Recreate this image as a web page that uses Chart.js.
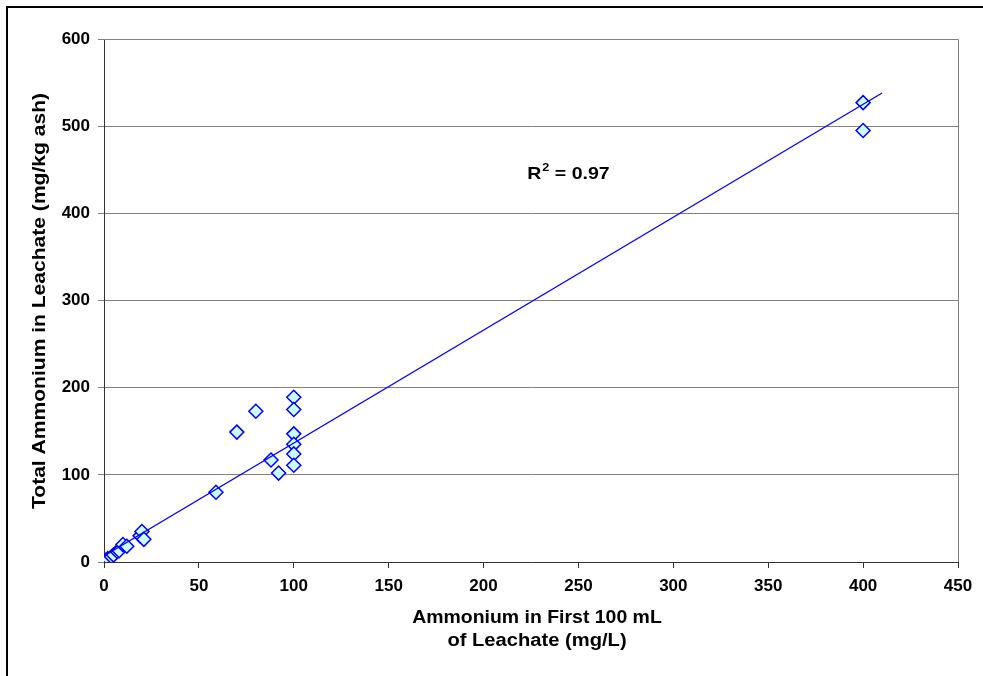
<!DOCTYPE html>
<html>
<head>
<meta charset="utf-8">
<script src="https://cdn.jsdelivr.net/npm/chart.js@4"></script>
<style>
  html, body { margin: 0; padding: 0; background: #fff; }
  #wrap { width: 983px; height: 676px; }
</style>
</head>
<body>
<div id="wrap"><canvas id="chart" width="983" height="676"></canvas></div>
<script>
// first 100 mL ammonium (mg/L) vs total ammonium in leachate (mg/kg ash)
var firstAmmonium = [0, 1, 2, 4, 5, 7, 8, 10, 12, 19, 20, 21, 59, 70, 80, 88, 92, 100, 100, 100, 100, 100, 100, 400, 400];
var totalAmmonium = [0, 2, 4, 6, 8, 12, 13, 20, 18, 30, 35, 26, 80, 149, 173, 117, 102, 189, 175, 147, 135, 124, 111, 527, 495];

// trendline end points
var trendX = [0, 410];
var trendY = [7, 538];

var xTicks = [0, 50, 100, 150, 200, 250, 300, 350, 400, 450];
var yTicks = [0, 100, 200, 300, 400, 500, 600];

var r2Label = { x: 223, y: 439, text: '0.97' };

var FONT = '"Liberation Sans", Arial, sans-serif';

var points = firstAmmonium.map(function (v, i) { return { x: v, y: totalAmmonium[i] }; });
var trend = trendX.map(function (v, i) { return { x: v, y: trendY[i] }; });

// text in the reference is a bit wider than plain Arial, so stretch it
function wideText(ctx, text, x, y, sx) {
    ctx.save();
    ctx.translate(x, y);
    ctx.scale(sx, 1);
    ctx.fillText(text, 0, 0);
    ctx.restore();
}

var extras = {
    id: 'extras',
    beforeDraw: function (chart) {
        var ctx = chart.ctx;
        ctx.save();
        ctx.strokeStyle = '#000';
        ctx.lineWidth = 2;
        ctx.beginPath();
        ctx.moveTo(7, 700);
        ctx.lineTo(7, 7);
        ctx.lineTo(1000, 7);
        ctx.stroke();
        ctx.restore();
    },
    afterDatasetsDraw: function (chart) {
        var ctx = chart.ctx;
        var a = chart.chartArea;
        var xs = chart.scales.x, ys = chart.scales.y;
        var sx = 1.15;
        ctx.save();
        ctx.fillStyle = '#000';
        ctx.textBaseline = 'alphabetic';

        // R^2 label
        var px = xs.getPixelForValue(r2Label.x);
        var py = ys.getPixelForValue(r2Label.y);
        ctx.textAlign = 'left';
        ctx.font = 'bold 17px ' + FONT;
        wideText(ctx, 'R', px, py, sx);
        var w = ctx.measureText('R').width * sx;
        ctx.font = 'bold 11px ' + FONT;
        wideText(ctx, '2', px + w + 1, py - 8, sx);
        var w2 = ctx.measureText('2').width * sx;
        ctx.font = 'bold 17px ' + FONT;
        wideText(ctx, ' = ' + r2Label.text, px + w + w2 + 1, py, sx);

        // axis titles
        ctx.font = 'bold 18px ' + FONT;
        ctx.textAlign = 'center';
        var cx = (a.left + a.right) / 2 + 6;
        wideText(ctx, 'Ammonium in First 100 mL', cx, 623, 1.08);
        wideText(ctx, 'of Leachate (mg/L)', cx, 646, 1.12);

        ctx.save();
        ctx.translate(45, 301);
        ctx.rotate(-Math.PI / 2);
        var tw = ctx.measureText('Total Ammonium in Leachate (mg/kg ash)').width;
        wideText(ctx, 'Total Ammonium in Leachate (mg/kg ash)', 0, 0, 416 / tw);
        ctx.restore();
        ctx.restore();
    },
    afterDraw: function (chart) {
        var ctx = chart.ctx;
        var a = chart.chartArea;
        ctx.save();
        ctx.lineWidth = 1;
        ctx.strokeStyle = '#808080';
        ctx.beginPath();
        ctx.moveTo(a.left, Math.round(a.top) + 0.5);
        ctx.lineTo(Math.round(a.right) + 0.5, Math.round(a.top) + 0.5);
        ctx.lineTo(Math.round(a.right) + 0.5, a.bottom);
        ctx.stroke();
        ctx.restore();
    }
};

new Chart(document.getElementById('chart').getContext('2d'), {
    type: 'scatter',
    data: {
        datasets: [
            {
                label: 'Ammonium',
                data: points,
                pointStyle: 'rectRot',
                pointRadius: 7,
                pointHoverRadius: 7,
                pointBorderWidth: 1.5,
                pointBackgroundColor: '#ccffff',
                pointBorderColor: '#0000ff',
                order: 1
            },
            {
                type: 'line',
                label: 'Trend',
                data: trend,
                borderColor: '#0000ff',
                borderWidth: 1.3,
                pointRadius: 0,
                fill: false,
                order: 0
            }
        ]
    },
    options: {
        responsive: false,
        animation: false,
        layout: { padding: { left: 0, top: 39, right: 25, bottom: 0 } },
        plugins: {
            legend: { display: false },
            tooltip: { enabled: false }
        },
        scales: {
            x: {
                type: 'linear',
                min: 0,
                max: 450,
                afterBuildTicks: function (scale) {
                    scale.ticks = xTicks.map(function (v) { return { value: v }; });
                },
                afterFit: function (scale) { scale.height = 114; },
                grid: {
                    drawOnChartArea: false,
                    drawTicks: true,
                    tickLength: 6,
                    color: '#333'
                },
                border: { color: '#333', width: 1 },
                ticks: {
                    color: '#000',
                    padding: 8,
                    maxRotation: 0,
                    font: { family: FONT, size: 17, weight: 'bold' }
                }
            },
            y: {
                min: 0,
                max: 600,
                afterBuildTicks: function (scale) {
                    scale.ticks = yTicks.map(function (v) { return { value: v }; });
                },
                afterFit: function (scale) { scale.width = 104; },
                grid: {
                    drawOnChartArea: true,
                    drawTicks: true,
                    tickLength: 6,
                    color: '#808080'
                },
                border: { color: '#333', width: 1 },
                ticks: {
                    color: '#000',
                    padding: 8,
                    font: { family: FONT, size: 17, weight: 'bold' }
                }
            }
        }
    },
    plugins: [extras]
});
</script>
</body>
</html>
